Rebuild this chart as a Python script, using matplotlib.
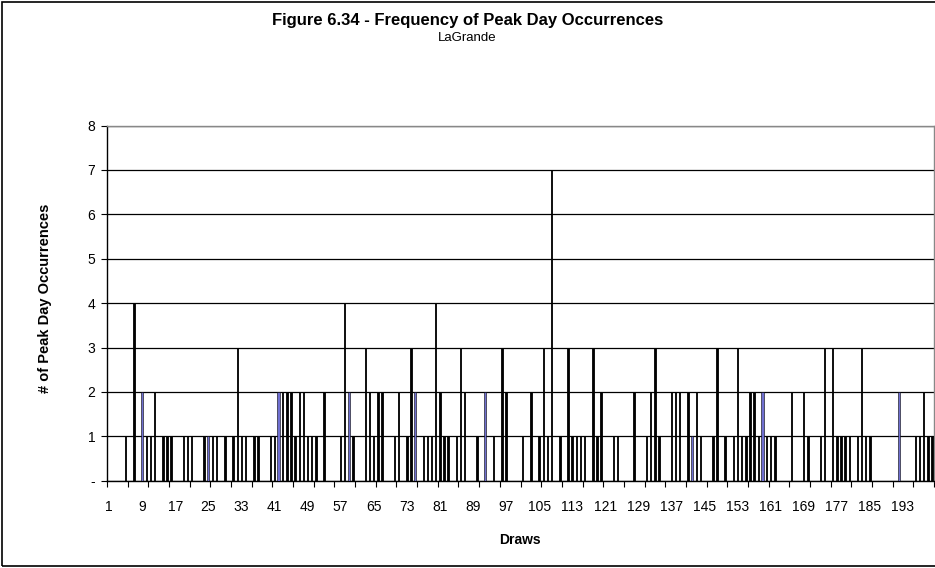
import numpy as np
import matplotlib.pyplot as plt
from matplotlib.patches import Rectangle

plt.rcParams['font.family'] = ['Liberation Sans', 'DejaVu Sans']

# values, draw 1..200
draws = np.arange(1, 201)
occurrences = [
    0, 0, 0, 0, 1, 0, 4, 0, 2, 1,
    1, 2, 0, 1, 1, 1, 0, 0, 1, 1,
    1, 0, 0, 1, 1, 1, 1, 0, 1, 0,
    1, 3, 1, 1, 0, 1, 1, 0, 0, 1,
    1, 2, 2, 2, 2, 1, 2, 2, 1, 1,
    1, 0, 2, 0, 0, 0, 1, 4, 2, 1,
    0, 0, 3, 2, 1, 2, 2, 0, 0, 1,
    2, 0, 1, 3, 2, 0, 1, 1, 1, 4,
    2, 1, 1, 0, 1, 3, 2, 0, 0, 1,
    0, 2, 0, 1, 0, 3, 2, 0, 0, 0,
    1, 0, 2, 0, 1, 3, 1, 7, 0, 1,
    0, 3, 1, 1, 1, 1, 0, 3, 1, 2,
    0, 0, 1, 1, 0, 0, 0, 2, 0, 0,
    1, 2, 3, 1, 0, 0, 2, 2, 2, 0,
    2, 1, 2, 1, 0, 0, 1, 3, 0, 1,
    0, 1, 3, 1, 1, 2, 2, 1, 2, 1,
    1, 1, 0, 0, 0, 2, 0, 0, 2, 1,
    0, 0, 1, 3, 0, 3, 1, 1, 1, 1,
    0, 1, 3, 1, 1, 0, 0, 0, 0, 0,
    0, 2, 0, 0, 0, 1, 1, 2, 1, 1,
]
# bars whose fill shows through in the original rendering
blue_draws = [9, 25, 42, 59, 75, 92, 142, 159, 192]
y_ticks = [0, 1, 2, 3, 4, 5, 6, 7, 8]
y_labels = ['-', '1', '2', '3', '4', '5', '6', '7', '8']
x_labels = list(range(1, 201, 8))

W, H = 935, 568
fig = plt.figure(figsize=(W / 100, H / 100), dpi=100)
fig.patches.append(Rectangle((2 / W, 2 / H), (W + 10) / W, (H - 4) / H,
                             transform=fig.transFigure, fill=False,
                             ec='black', lw=1.2))

ax = fig.add_axes([107 / W, 1 - 480.7 / H, 827 / W, (480.7 - 125.5) / H])

for d, v in zip(draws, occurrences):
    if v == 0:
        continue
    if d in blue_draws:
        ax.bar(d, v, width=0.55, color='#6f6fd0', edgecolor='black',
               linewidth=0.4, zorder=3)
    else:
        ax.bar(d, v, width=0.35, color='black', edgecolor='black',
               linewidth=0.6, zorder=3)

ax.set_xlim(0.5, 200.5)
ax.set_ylim(0, 8)
ax.set_yticks(y_ticks)
ax.set_yticklabels(y_labels, fontsize=10)
ax.set_xticks(x_labels)
ax.set_xticklabels([str(x) for x in x_labels], fontsize=10)
ax.set_xticks(np.arange(0.5, 201, 5), minor=True)
ax.tick_params(axis='x', which='major', length=0, pad=14)
ax.tick_params(axis='x', which='minor', length=4.5, width=0.8, direction='out')
ax.tick_params(axis='y', length=4.5, width=0.8, direction='out', pad=4)

ax.grid(axis='y', color='black', lw=0.9, zorder=1)
ax.set_axisbelow(True)
for s in ['top', 'right']:
    ax.spines[s].set_color('#888888')
    ax.spines[s].set_linewidth(1.0)
for s in ['left', 'bottom']:
    ax.spines[s].set_color('black')
    ax.spines[s].set_linewidth(1.0)

fig.text(0.5, 1 - 21 / H, 'Figure 6.34 - Frequency of Peak Day Occurrences',
         ha='center', va='center', fontsize=12, fontweight='bold')
fig.text(0.5, 1 - 38 / H, 'LaGrande', ha='center', va='center', fontsize=9.5)
fig.text(45 / W, 1 - 298 / H, '# of Peak Day Occurrences', rotation=90,
         ha='center', va='center', fontsize=10.5, fontweight='bold')
fig.text(520 / W, 1 - 540 / H, 'Draws', ha='center', va='center',
         fontsize=10, fontweight='bold')

fig.savefig('out.png', dpi=100)
